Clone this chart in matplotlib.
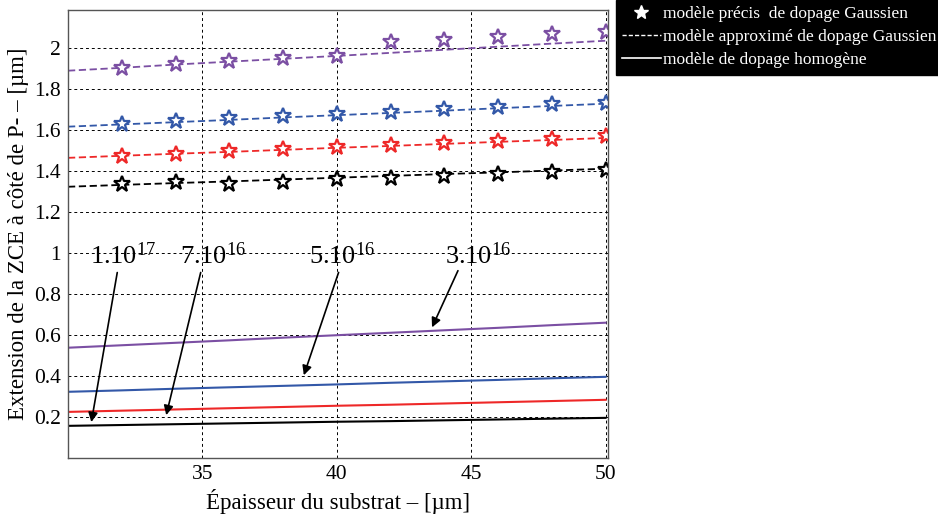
import numpy as np
import matplotlib
matplotlib.use('Agg')
import matplotlib.pyplot as plt
from matplotlib.lines import Line2D

plt.rcParams['font.family'] = ['Liberation Serif', 'DejaVu Serif']
plt.rcParams['mathtext.fontset'] = 'custom'
plt.rcParams['mathtext.rm'] = 'Liberation Serif'

# epaisseur du substrat [um]
x_star = [32, 34, 36, 38, 40, 42, 44, 46, 48, 50]
x_line = [30, 32, 34, 36, 38, 40, 42, 44, 46, 48, 50]

doping = ['3.10^16', '5.10^16', '7.10^16', '1.10^17']
colors = ['#7b4fa3', '#3358a8', '#ee2828', '#000000']

# modele precis (etoiles)
star_3e16 = [1.902, 1.922, 1.937, 1.951, 1.961, 2.030, 2.040, 2.054, 2.068, 2.078]
star_5e16 = [1.629, 1.644, 1.659, 1.668, 1.678, 1.688, 1.702, 1.712, 1.727, 1.732]
star_7e16 = [1.473, 1.483, 1.498, 1.507, 1.517, 1.527, 1.537, 1.546, 1.556, 1.571]
star_1e17 = [1.337, 1.346, 1.337, 1.346, 1.361, 1.366, 1.376, 1.385, 1.395, 1.405]

# modele approxime (tirets)
approx_3e16 = [1.888, 1.902, 1.918, 1.932, 1.946, 1.960, 1.975, 1.990, 2.005, 2.020, 2.034]
approx_5e16 = [1.615, 1.626, 1.637, 1.648, 1.660, 1.671, 1.682, 1.693, 1.705, 1.716, 1.727]
approx_7e16 = [1.463, 1.473, 1.483, 1.492, 1.502, 1.512, 1.521, 1.531, 1.541, 1.550, 1.560]
approx_1e17 = [1.322, 1.331, 1.340, 1.348, 1.357, 1.366, 1.375, 1.384, 1.392, 1.401, 1.410]

# modele homogene (trait plein)
homo_3e16 = [0.537, 0.549, 0.561, 0.573, 0.586, 0.598, 0.610, 0.622, 0.634, 0.647, 0.659]
homo_5e16 = [0.322, 0.329, 0.337, 0.344, 0.351, 0.358, 0.366, 0.373, 0.380, 0.388, 0.395]
homo_7e16 = [0.224, 0.230, 0.236, 0.242, 0.248, 0.254, 0.259, 0.265, 0.271, 0.277, 0.283]
homo_1e17 = [0.156, 0.160, 0.164, 0.168, 0.172, 0.176, 0.179, 0.183, 0.187, 0.191, 0.195]

stars = [star_3e16, star_5e16, star_7e16, star_1e17]
approx = [approx_3e16, approx_5e16, approx_7e16, approx_1e17]
homo = [homo_3e16, homo_5e16, homo_7e16, homo_1e17]

# annotations
ann_labels = [r'$\mathrm{3.10^{16}}$', r'$\mathrm{5.10^{16}}$', r'$\mathrm{7.10^{16}}$', r'$\mathrm{1.10^{17}}$']
ann_text_xy = [(45.25, 0.985), (40.2, 0.985), (35.4, 0.985), (32.05, 0.985)]
ann_tip_xy = [(43.5, 0.624), (38.74, 0.39), (33.63, 0.195), (30.85, 0.161)]
ann_start_xy = [(44.55, 0.925), (40.1, 0.917), (34.96, 0.917), (31.85, 0.917)]

fig = plt.figure(figsize=(9.38, 5.15), dpi=100)
ax = fig.add_axes([0.0725, 0.111, 0.576, 0.870])

for i in range(len(doping)):
    c = colors[i]
    ax.plot(x_line, approx[i], '--', color=c, lw=1.3, dashes=(4, 2))
    ax.plot(x_star, stars[i], linestyle='none', marker='*', markersize=12,
            markerfacecolor='white', markeredgecolor=c, markeredgewidth=1.6)
    ax.plot(x_line, homo[i], '-', color=c, lw=1.5)

for lab, txy, tip, st in zip(ann_labels, ann_text_xy, ann_tip_xy, ann_start_xy):
    ax.text(txy[0], txy[1], lab, fontsize=19, ha='center', va='center')
    ax.annotate('', xy=tip, xytext=st,
                arrowprops=dict(arrowstyle='-|>', color='black', lw=1.2, mutation_scale=14))

ax.set_xlim(30, 50.1)
ax.set_ylim(0, 2.185)
ax.set_xticks([35, 40, 45, 50])
ax.set_yticks([0.2, 0.4, 0.6, 0.8, 1.0, 1.2, 1.4, 1.6, 1.8, 2.0])
ax.set_yticklabels(['0.2', '0.4', '0.6', '0.8', '1', '1.2', '1.4', '1.6', '1.8', '2'])
ax.tick_params(labelsize=15.5, direction='in', length=0, pad=5)
ax.grid(True, color='black', linestyle=(0, (3, 3)), lw=0.7)
for s in ax.spines.values():
    s.set_linewidth(1.0)
    s.set_color('#555555')

ax.set_xlabel('Épaisseur du substrat – [µm]', fontsize=16.5, labelpad=4)
ax.set_ylabel('Extension de la ZCE à côté de P- – [µm]', fontsize=16.5, labelpad=4)

# legende noire hors des axes
handles = [
    Line2D([], [], linestyle='none', marker='*', color='white', markersize=10),
    Line2D([], [], linestyle='--', color='white', lw=1.0, dashes=(3, 1.5)),
    Line2D([], [], linestyle='-', color='white', lw=1.2),
]
labels = ['modèle précis  de dopage Gaussien',
          'modèle approximé de dopage Gaussien',
          'modèle de dopage homogène']
fig.legend(handles, labels, loc='upper left', bbox_to_anchor=(0.657, 1.0),
           facecolor='black', edgecolor='black', framealpha=1, fancybox=False,
           labelcolor='white', fontsize=12.5, handlelength=2.2, handletextpad=0.15,
           borderpad=0.35, labelspacing=0.4, borderaxespad=0)

fig.savefig('out.png', dpi=100)
